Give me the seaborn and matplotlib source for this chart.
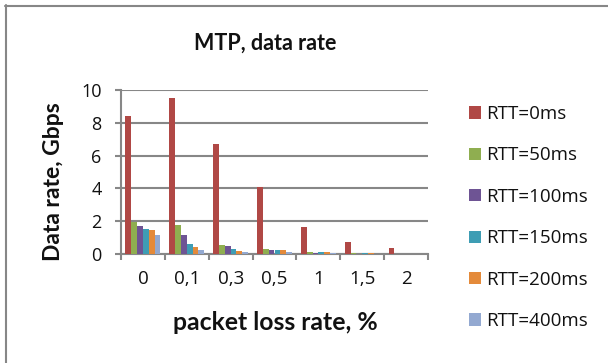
import matplotlib
matplotlib.use("Agg")
import matplotlib.pyplot as plt
from matplotlib.lines import Line2D
from matplotlib.ticker import FixedLocator
import numpy as np
import pandas as pd
import seaborn as sns

# Packet loss rates (%) on the x axis, as printed with decimal commas
loss_labels = ["0", "0,1", "0,3", "0,5", "1", "1,5", "2"]
rtt_labels = ["RTT=0ms", "RTT=50ms", "RTT=100ms", "RTT=150ms", "RTT=200ms", "RTT=400ms"]

# Data rate in Gbps for each RTT, one value per loss rate
rtt_0 = [8.44, 9.51, 6.72, 4.10, 1.62, 0.76, 0.35]
rtt_50 = [1.97, 1.76, 0.53, 0.29, 0.13, 0.08, 0.03]
rtt_100 = [1.72, 1.17, 0.47, 0.23, 0.04, 0.03, 0.02]
rtt_150 = [1.52, 0.59, 0.33, 0.23, 0.10, 0.08, 0.02]
rtt_200 = [1.45, 0.41, 0.16, 0.23, 0.10, 0.08, 0.02]
rtt_400 = [1.15, 0.23, 0.10, 0.10, 0.04, 0.03, 0.01]

series = [rtt_0, rtt_50, rtt_100, rtt_150, rtt_200, rtt_400]
colors = ["#B04845", "#8FAE50", "#6E5494", "#3E9DB4", "#E48A3A", "#93A9D1"]

rows = []
for name, vals in zip(rtt_labels, series):
    for loss, v in zip(loss_labels, vals):
        rows.append({"loss": loss, "rate": v, "rtt": name})
df = pd.DataFrame(rows)

sns.set_theme(style="white")
plt.rcParams["font.family"] = ["Open Sans", "DejaVu Sans"]
bold_font = ["Lato", "DejaVu Sans"]
text_c = "#111111"

W, H = 608, 363
fig = plt.figure(figsize=(W / 100, H / 100), dpi=100)
ax = fig.add_axes([121 / W, 1 - 254 / H, (428 - 121) / W, (254 - 90) / H])

grid_c = "#878787"
sns.barplot(data=df, x="loss", y="rate", hue="rtt", order=loss_labels,
            hue_order=rtt_labels, palette=colors, width=0.8, saturation=1,
            ax=ax, edgecolor="none", linewidth=0, zorder=3)

ax.set_xlim(-0.5, len(loss_labels) - 0.5)
ax.set_ylim(0, 10)
ax.set_yticks([0, 2, 4, 6, 8, 10])
ax.yaxis.grid(True, color=grid_c, linewidth=1.5, zorder=0)
ax.set_axisbelow(True)

for s in ["top", "right"]:
    ax.spines[s].set_visible(False)
for s in ["left", "bottom"]:
    ax.spines[s].set_color(grid_c)
    ax.spines[s].set_linewidth(1.5)

# category boundary ticks on the x axis
ax.xaxis.set_minor_locator(FixedLocator(np.arange(-0.5, len(loss_labels), 1.0)))
ax.tick_params(axis="x", which="major", length=0, pad=11.5, labelsize=13.5, labelcolor=text_c)
ax.tick_params(axis="x", which="minor", bottom=True, length=4.5, width=1.5, color=grid_c)
ax.tick_params(axis="y", which="major", left=True, length=4, width=1.5, color=grid_c,
               pad=10, labelsize=13, labelcolor=text_c)

ax.set_xlabel("")
ax.set_ylabel("")
fig.text(265 / W, 1 - 43 / H, "MTP, data rate", ha="center", va="center",
         fontsize=15.5, fontweight="bold", family=bold_font, color=text_c)
fig.text(275 / W, 1 - 322 / H, "packet loss rate, %", ha="center", va="center",
         fontsize=17.8, fontweight="bold", family=bold_font, color=text_c)
fig.text(54 / W, 1 - 182 / H, "Data rate, Gbps", ha="center", va="center",
         rotation=90, fontsize=16.5, fontweight="bold", family=bold_font, color=text_c)

handles, labels = ax.get_legend_handles_labels()
if ax.legend_:
    ax.legend_.remove()
fig.legend(handles, labels, loc="upper left", bbox_to_anchor=(469 / W, 1 - 105 / H),
           frameon=False, fontsize=13.5, handlelength=0.64, handleheight=0.64,
           handletextpad=0.28, labelspacing=1.25, borderaxespad=0, borderpad=0,
           labelcolor=text_c)

# chart frame: top and left edges
fig.add_artist(Line2D([5 / W, 1], [1 - 5.5 / H, 1 - 5.5 / H], color=grid_c, linewidth=1.5))
fig.add_artist(Line2D([5.5 / W, 5.5 / W], [0, 1 - 5 / H], color=grid_c, linewidth=1.5))

fig.savefig("out.png", dpi=100)
